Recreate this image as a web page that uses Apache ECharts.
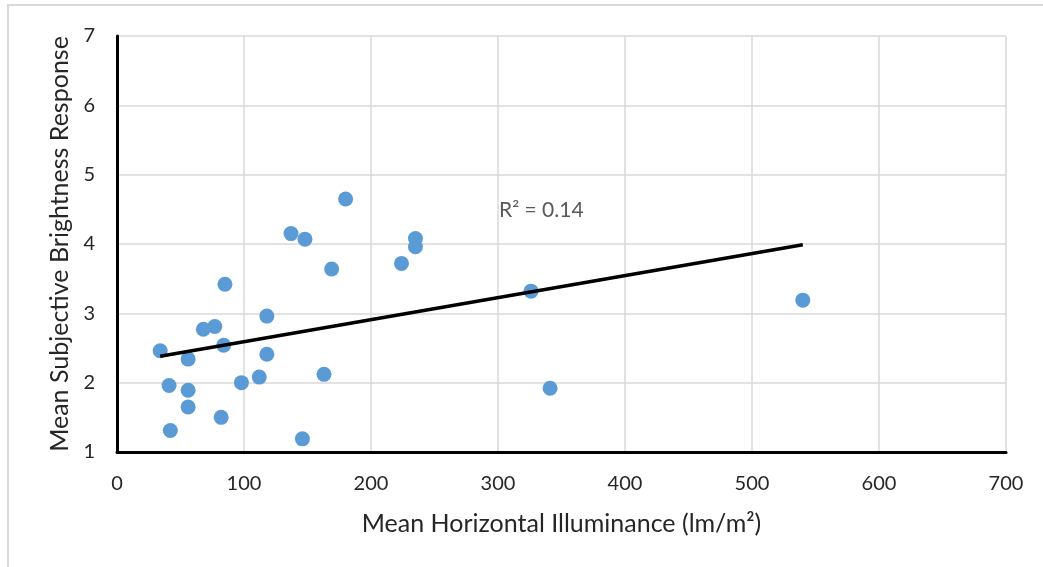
<!DOCTYPE html>
<html>
<head>
<meta charset="utf-8">
<script src="https://cdn.jsdelivr.net/npm/echarts@6/dist/echarts.min.js"></script>
<style>
  html, body { margin: 0; padding: 0; background: #ffffff; }
  #chart { width: 1043px; height: 567px; }
</style>
</head>
<body>
<div id="chart"></div>
<script>
// Mean horizontal illuminance (lm/m²) for each space
const illuminance = [180, 137, 148, 169, 85, 118, 68, 77, 34, 84, 56, 118, 41, 56,
                     98, 112, 163, 56, 82, 42, 146, 235, 235, 224, 326, 341, 540];
// Mean subjective brightness response for each space
const brightness = [4.65, 4.15, 4.07, 3.64, 3.42, 2.96, 2.77, 2.81, 2.46, 2.54, 2.34, 2.41, 1.96, 1.89,
                    2.00, 2.08, 2.12, 1.65, 1.50, 1.31, 1.19, 4.08, 3.96, 3.72, 3.32, 1.92, 3.19];
// Linear trend line end points
const trendX = [34, 540];
const trendY = [2.38, 3.99];
const trendLabel = 'R² = 0.14';

const xTicks = { min: 0, max: 700, step: 100 };
const yTicks = { min: 1, max: 7, step: 1 };

const FONT = 'Lato';

const points = illuminance.map((x, i) => [x, brightness[i]]);
const trend = trendX.map((x, i) => [x, trendY[i]]);

const chart = echarts.init(document.getElementById('chart'), null, { renderer: 'canvas' });

chart.setOption({
  animation: false,
  backgroundColor: '#ffffff',
  grid: { left: 117, right: 37, top: 36, bottom: 115, containLabel: false },
  xAxis: {
    type: 'value',
    min: xTicks.min, max: xTicks.max, interval: xTicks.step,
    name: 'Mean Horizontal Illuminance (lm/m²)',
    nameLocation: 'middle',
    nameGap: 59,
    nameTextStyle: { fontFamily: FONT, fontSize: 25, color: '#262626' },
    axisLine: { show: true, onZero: false, lineStyle: { color: '#000000', width: 3 } },
    axisTick: { show: false },
    axisLabel: { fontFamily: FONT, fontSize: 20, color: '#262626', margin: 22 },
    splitLine: { show: true, lineStyle: { color: '#d9d9d9', width: 1.5 } }
  },
  yAxis: {
    type: 'value',
    min: yTicks.min, max: yTicks.max, interval: yTicks.step,
    name: 'Mean Subjective Brightness Response',
    nameLocation: 'middle',
    nameGap: 44,
    nameTextStyle: { fontFamily: FONT, fontSize: 25, color: '#262626' },
    axisLine: { show: true, onZero: false, lineStyle: { color: '#000000', width: 3 } },
    axisTick: { show: false },
    axisLabel: { fontFamily: FONT, fontSize: 20, color: '#262626', margin: 22 },
    splitLine: { show: true, lineStyle: { color: '#d9d9d9', width: 1.5 } }
  },
  series: [
    {
      type: 'scatter',
      data: points,
      symbol: 'circle',
      symbolSize: 15,
      itemStyle: { color: '#5b9bd5', opacity: 1 },
      z: 2
    },
    {
      type: 'line',
      data: trend,
      symbol: 'none',
      lineStyle: { color: '#000000', width: 3.5 },
      z: 3
    }
  ],
  graphic: [
    {
      type: 'rect',
      shape: { x: 8, y: 5, width: 1200, height: 700 },
      style: { fill: 'none', stroke: '#d9d9d9', lineWidth: 2 },
      silent: true
    },
    {
      type: 'text',
      left: 499, top: 200,
      style: { text: trendLabel, fontFamily: FONT, fontSize: 21, fill: '#595959' }
    }
  ]
});
</script>
</body>
</html>
